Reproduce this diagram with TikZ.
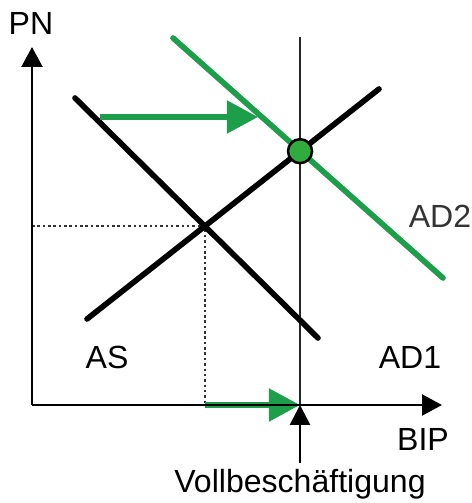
\documentclass[tikz,border=0pt]{standalone}
\usepackage{fontspec}
\setmainfont{Liberation Sans}
\usetikzlibrary{arrows.meta}
\definecolor{kurvengruen}{RGB}{28,158,74}
\definecolor{punktgruen}{RGB}{48,172,62}

\begin{document}
\begin{tikzpicture}[
    kurve/.style={line width=4pt, line cap=round},
    achse/.style={line width=2pt, -{Triangle[length=0.5cm, width=0.52cm]}},
    schub/.style={kurvengruen, line width=4pt, -{Triangle[length=0.78cm, width=0.8cm]}},
    beschriftung/.style={anchor=base, inner sep=0pt, font=\fontsize{22.8}{27}\selectfont}
  ]
    \useasboundingbox (0,0) rectangle (11.8,12.575);

    \coordinate (O) at (0.8,2.45);
    \coordinate (Ytop) at (0.8,11.4);
    \coordinate (Xend) at (11.05,2.45);
    \coordinate (VBtop) at (7.5,11.65);
    \coordinate (VB) at (7.5,2.45);
    \coordinate (VBlow) at (7.5,1.0);
    \coordinate (AD1a) at (1.875,10.125);
    \coordinate (AD1b) at (7.95,4.125);
    \coordinate (ASa) at (2.175,4.6);
    \coordinate (ASb) at (9.475,10.35);
    \coordinate (AD2a) at (4.325,11.625);
    \coordinate (AD2b) at (11.075,5.625);
    \coordinate (S) at (intersection of AD1a--AD1b and ASa--ASb);
    \coordinate (G) at (intersection of VBtop--VB and ASa--ASb);
    \coordinate (Sy) at (O |- S);
    \coordinate (Sx) at (S |- O);
    \coordinate (Pstart) at (2.5,9.65);
    \coordinate (Pend) at (6.45,9.65);

    % Vollbeschaeftigung
    \draw[line width=1.3pt, black!85] (VBtop) -- (VB);

    % Hilfslinien
    \draw[line width=1.8pt, dotted, black!80] (Sy) -- (S) -- (Sx);

    % Kurven
    \draw[kurve] (AD1a) -- (AD1b);
    \draw[kurve] (ASa) -- (ASb);
    \draw[kurve, kurvengruen] (AD2a) -- (AD2b);
    \draw[line width=1.8pt, fill=punktgruen] (G) circle (0.3);

    % Verschiebungen
    \draw[schub] (Pstart) -- (Pend);
    \draw[schub] (Sx) -- (VB);

    % Achsen
    \draw[achse] (O) -- (Ytop);
    \draw[achse] (O) -- (Xend);
    \draw[line width=2pt, -{Triangle[length=0.5cm, width=0.5cm]}] (VBlow) -- (VB);

    \node[beschriftung] (pn) at (0.775,11.7) {PN};
    \node[beschriftung] (as) at (2.675,3.375) {AS};
    \node[beschriftung] (ad1) at (10.25,3.375) {AD1};
    \node[beschriftung, black!80] (ad2) at (11.0,6.875) {AD2};
    \node[beschriftung] (bip) at (10.575,1.325) {BIP};
    \node[beschriftung] (vb) at (7.5,0.275) {Vollbesch\"aftigung};
\end{tikzpicture}
\end{document}
